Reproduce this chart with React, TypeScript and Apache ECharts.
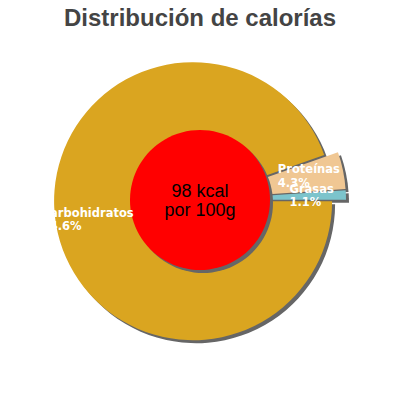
import React, { useEffect, useRef } from 'react';
import * as echarts from 'echarts';

// datos
const categories = ['Carbohidratos', 'Proteínas', 'Grasas'];
const percents = [94.6, 4.3, 1.1];
const sliceColors = ['#DAA520', '#F0C793', '#7CC4CC'];
const centerLines = ['98 kcal', 'por 100g'];
const titleText = 'Distribución de calorías';

// desplazamiento de las etiquetas respecto a la posición "inside"
const labelShift = [
  [-80, 6],
  [0, -8],
  [10, -2],
];

const CENTER = [200, 200];
const RADIUS = 139;
const INNER = 70;
const SHADOW = 3;
const OFFSET = 7;

const App: React.FC = () => {
  const chartRef = useRef<HTMLDivElement | null>(null);

  useEffect(() => {
    const chart = echarts.init(chartRef.current!, null, { renderer: 'svg' });

    const pieData = (colors: string[] | string) =>
      categories.map((name, i) => ({
        name,
        value: percents[i],
        selected: true,
        itemStyle: { color: Array.isArray(colors) ? colors[i] : colors },
      }));

    const basePie = {
      type: 'pie',
      radius: [0, RADIUS],
      startAngle: 0,
      clockwise: true,
      selectedMode: 'multiple',
      selectedOffset: OFFSET,
      avoidLabelOverlap: false,
      silent: true,
      label: { show: false },
      labelLine: { show: false },
      emphasis: { disabled: true },
    };

    const option = {
      animation: false,
      backgroundColor: '#fff',
      title: {
        text: titleText,
        left: 'center',
        top: 0,
        textStyle: {
          fontFamily: 'Liberation Sans',
          fontSize: 24,
          fontWeight: 'bold',
          color: '#444',
        },
      },
      series: [
        // sombra del pastel
        {
          ...basePie,
          z: 1,
          center: [CENTER[0] + SHADOW, CENTER[1] + SHADOW],
          data: pieData('#666'),
        },
        {
          ...basePie,
          z: 2,
          center: CENTER,
          data: pieData(sliceColors),
        },
        // círculo central con sombra
        {
          type: 'pie',
          z: 3,
          silent: true,
          radius: [0, INNER],
          center: [CENTER[0] + SHADOW, CENTER[1] + SHADOW],
          label: { show: false },
          labelLine: { show: false },
          emphasis: { disabled: true },
          data: [{ value: 1, name: 'sombra', itemStyle: { color: '#666' } }],
        },
        {
          type: 'pie',
          z: 4,
          silent: true,
          radius: [0, INNER],
          center: CENTER,
          labelLine: { show: false },
          emphasis: { disabled: true },
          label: {
            show: true,
            position: 'center',
            formatter: centerLines.join('\n'),
            fontFamily: 'Liberation Sans',
            fontSize: 18,
            lineHeight: 19,
            color: '#000',
          },
          data: [{ value: 1, name: 'kcal', itemStyle: { color: '#FF0000' } }],
        },
        // etiquetas encima de todo
        {
          ...basePie,
          z: 5,
          center: CENTER,
          data: pieData('rgba(0,0,0,0)'),
          label: {
            show: true,
            position: 'inside',
            formatter: (p: any) => `${p.name}\n${p.value}%`,
            fontFamily: 'DejaVu Sans',
            fontWeight: 'bold',
            fontSize: 11.5,
            lineHeight: 13.5,
            color: '#fff',
          },
          labelLayout: (p: any) => ({
            dx: labelShift[p.dataIndex][0],
            dy: labelShift[p.dataIndex][1],
            align: 'left',
          }),
        },
      ],
    };

    chart.setOption(option);

    return () => {
      chart.dispose();
    };
  }, []);

  return (
    <div
      ref={chartRef}
      style={{ position: 'fixed', left: 0, top: 0, width: '400px', height: '400px' }}
    />
  );
};

export default App;
